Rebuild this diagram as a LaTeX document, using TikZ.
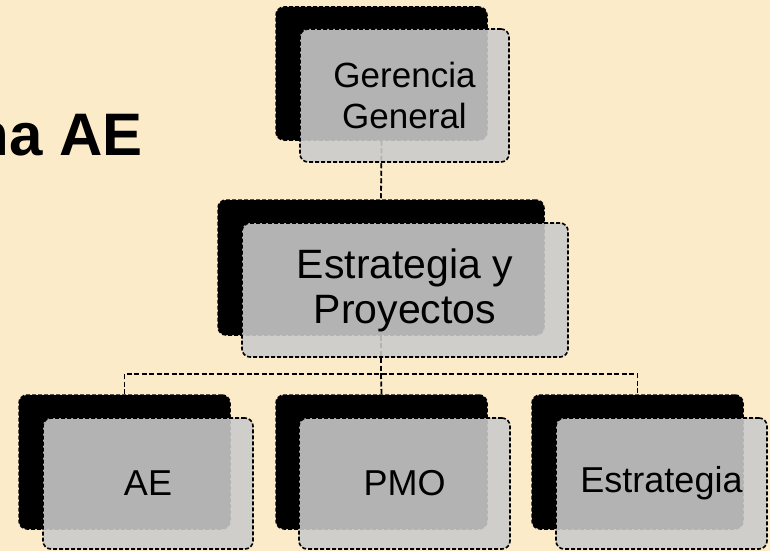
\documentclass[tikz,border=0pt]{standalone}
\usepackage{fontspec}
\setmainfont{Liberation Sans}
\definecolor{bgcream}{HTML}{FCEBC9}
\definecolor{frontgray}{HTML}{CBCBCB}
\tikzset{
  conn/.style={draw=black, line width=1.8pt, dash pattern=on 5pt off 2.5pt},
  backbox/.style={draw=black, fill=black, line width=1.5pt, dash pattern=on 4pt off 2pt, rounded corners=8pt, inner sep=0pt},
  frontbox/.style={draw=black, fill=frontgray, fill opacity=0.885, text opacity=1, line width=1.6pt, dash pattern=on 4pt off 2pt, rounded corners=8pt, inner sep=0pt, align=center, text=black},
  childtext/.style={font=\fontsize{36}{42}\selectfont},
}
\begin{document}
\begin{tikzpicture}[x=1pt,y=-1pt]
\fill[bgcream] (0,0) rectangle (770,551);
\useasboundingbox (0,0) rectangle (770,551);

% title (cut off at left, as in the reference)
\node[anchor=base east, inner sep=0pt, font=\fontsize{60}{70}\selectfont\bfseries] (title) at (143,155) {na AE};

% back boxes (named for connectors)
\node[backbox, minimum width=211pt, minimum height=133pt] (gB) at (381.5,73.5) {};
\node[backbox, minimum width=326pt, minimum height=135pt] (eB) at (381,267.5) {};
\node[backbox, minimum width=211pt, minimum height=134pt] (aB) at (124.5,462) {};
\node[backbox, minimum width=211pt, minimum height=134pt] (pB) at (381.5,462) {};
\node[backbox, minimum width=211pt, minimum height=134pt] (sB) at (637.5,462) {};

% connectors (behind front boxes)
\coordinate (hl) at (0,374);
\coordinate (j) at (eB.south |- hl);
\draw[conn] (gB.south) -- (eB.north);
\draw[conn] (eB.south) -- (j);
\draw[conn] (aB.north) -- (aB.north |- hl) -- (sB.north |- hl) -- (sB.north);
\draw[conn] (j) -- (pB.north);

% front boxes with text
\node[frontbox, minimum width=209pt, minimum height=133pt, font=\fontsize{35}{41}\selectfont] (gF) at (404.5,95.5) {Gerencia\\General};
\node[frontbox, minimum width=326pt, minimum height=134pt, font=\fontsize{41}{45}\selectfont] (eF) at (405,290) {Estrategia y\\Proyectos};
\node[frontbox, childtext, minimum width=210pt, minimum height=131pt] (aF) at (148,483.5) {AE};
\node[frontbox, childtext, minimum width=211pt, minimum height=131pt] (pF) at (404.5,483.5) {PMO};
\node[frontbox, childtext, minimum width=211pt, minimum height=131pt] (sF) at (661.5,483.5) {Estrategia};
\end{tikzpicture}
\end{document}
